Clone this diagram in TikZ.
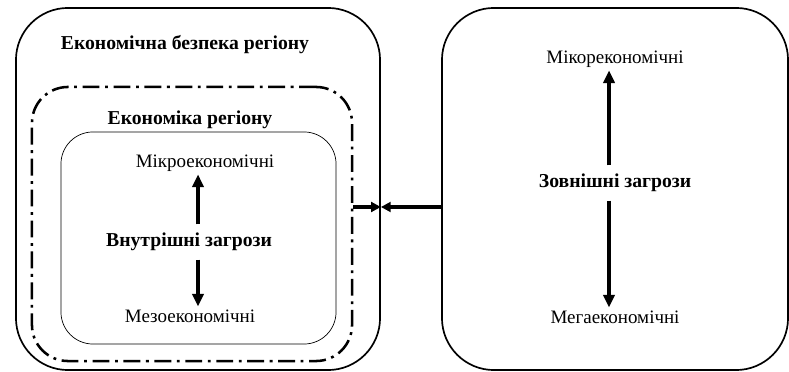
\documentclass[tikz,border=0pt]{standalone}
\usepackage{fontspec}
\setmainfont{Liberation Serif}
\usepackage{tikz}
\usetikzlibrary{arrows.meta}

\begin{document}
\begin{tikzpicture}[x=0.025cm, y=-0.025cm,
  box/.style={draw, line width=1.2pt, rounded corners=1.3cm, inner sep=0pt},
  txt/.style={font=\rmfamily\fontsize{13.5}{15}\selectfont, inner sep=2pt},
  head/.style={font=\rmfamily\fontsize{14}{16}\selectfont\bfseries, inner sep=2pt},
  arr/.style={line width=2.4pt, -{Triangle[length=9pt, width=8pt]}}]
  \useasboundingbox (0, 0) rectangle (789, 372);

  \node[box, minimum width=9.1cm, minimum height=9.05cm] (outer) at (198, 189) {};
  \node[box, line width=1.8pt, rounded corners=0.9cm, dash pattern=on 12pt off 4pt on 2pt off 4pt,
    minimum width=8cm, minimum height=6.85cm] (region) at (192, 224) {};
  \node[box, line width=0.5pt, rounded corners=0.8cm,
    minimum width=6.875cm, minimum height=5.3cm] (inner) at (198.5, 238) {};
  \node[box, minimum width=8.65cm, minimum height=9.05cm] (ext) at (615, 189) {};

  \node[head] (security) at (185, 45) {Економічна безпека регіону};
  \node[head] (economy) at (190, 120) {Економіка регіону};
  \node[txt] (micro) at (205, 163) {Мікроекономічні};
  \node[head] (internal) at (189, 242) {Внутрішні загрози};
  \node[txt] (meso) at (190, 316) {Мезоекономічні};

  \node[txt] (micro2) at (615, 59) {Мікорекономічні};
  \node[head] (external) at (615, 183) {Зовнішні загрози};
  \node[txt] (mega) at (615, 317) {Мегаекономічні};

  \coordinate (axisL) at (198, 0);
  \coordinate (axisR) at (609, 0);
  \coordinate (link) at (400, 207);

  \draw[arr, shorten <=4pt] (internal.north -| axisL) -- (micro.south -| axisL);
  \draw[arr, shorten <=4pt] (internal.south -| axisL) -- (meso.north -| axisL);
  \draw[arr, shorten <=4pt] (external.north -| axisR) -- (micro2.south -| axisR);
  \draw[arr, shorten <=4pt] (external.south -| axisR) -- (mega.north -| axisR);

  \draw[arr, -{Triangle[length=7pt, width=7pt]}] (region.east |- link) -- (outer.east |- link);
  \draw[arr, -{Triangle[length=7pt, width=7pt]}] (ext.west |- link) -- (outer.east |- link);
\end{tikzpicture}
\end{document}
